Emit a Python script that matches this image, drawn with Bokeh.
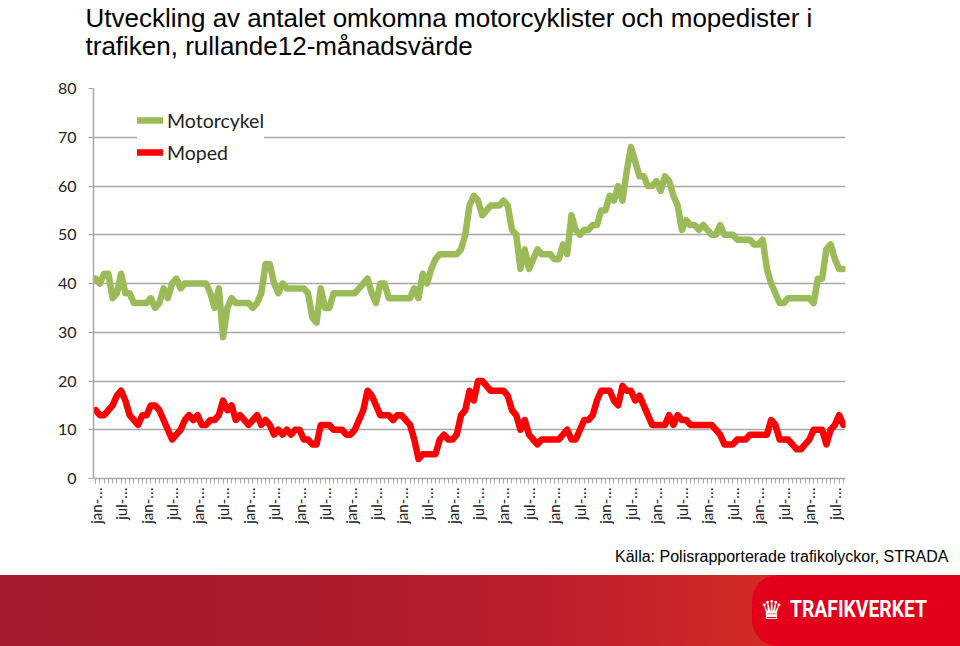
from math import pi
from bokeh.plotting import figure
from bokeh.models import (Range1d, FixedTicker, Title, Legend, LegendItem, Div)
from bokeh.layouts import column
from bokeh.embed import file_html
from bokeh.resources import INLINE

# ---- data -------------------------------------------------------------
months = list(range(177))
tick_positions = list(range(0, 177, 6))
tick_labels = ["jan-…" if m % 12 == 0 else "jul-…" for m in tick_positions]
y_ticks = [0, 10, 20, 30, 40, 50, 60, 70, 80]

motorcykel = [
    41, 40, 42, 42, 37, 38, 42, 38, 38, 36,
    36, 36, 36, 37, 35, 36, 39, 37, 40, 41,
    39, 40, 40, 40, 40, 40, 40, 38, 35, 39,
    29, 35, 37, 36, 36, 36, 36, 35, 36, 38,
    44, 44, 40, 38, 40, 39, 39, 39, 39, 39,
    38, 33, 32, 39, 35, 35, 38, 38, 38, 38,
    38, 38, 39, 40, 41, 38, 36, 40, 40, 37,
    37, 37, 37, 37, 37, 39, 37, 42, 40, 43,
    45, 46, 46, 46, 46, 46, 47, 50, 56, 58,
    57, 54, 55, 56, 56, 56, 57, 56, 51, 50,
    43, 47, 43, 45, 47, 46, 46, 46, 45, 45,
    48, 46, 54, 51, 50, 51, 51, 52, 52, 55,
    55, 58, 57, 60, 57, 63, 68, 65, 62, 62,
    60, 60, 61, 59, 62, 61, 58, 56, 51, 53,
    52, 52, 51, 52, 51, 50, 50, 52, 50, 50,
    50, 49, 49, 49, 49, 48, 48, 49, 43, 40,
    38, 36, 36, 37, 37, 37, 37, 37, 37, 36,
    41, 41, 47, 48, 45, 43, 43,
]

moped = [
    14, 13, 13, 14, 15, 17, 18, 16, 13, 12,
    11, 13, 13, 15, 15, 14, 12, 10, 8, 9,
    10, 12, 13, 12, 13, 11, 11, 12, 12, 13,
    16, 14, 15, 12, 13, 12, 11, 12, 13, 11,
    12, 11, 9, 10, 9, 10, 9, 10, 10, 8,
    8, 7, 7, 11, 11, 11, 10, 10, 10, 9,
    9, 10, 12, 14, 18, 17, 15, 13, 13, 13,
    12, 13, 13, 12, 11, 8, 4, 5, 5, 5,
    5, 8, 9, 8, 8, 9, 13, 14, 18, 16,
    20, 20, 19, 18, 18, 18, 18, 17, 14, 13,
    10, 12, 9, 8, 7, 8, 8, 8, 8, 8,
    9, 10, 8, 8, 10, 12, 12, 13, 16, 18,
    18, 18, 16, 15, 19, 18, 18, 16, 17, 15,
    13, 11, 11, 11, 11, 13, 11, 13, 12, 12,
    11, 11, 11, 11, 11, 11, 10, 9, 7, 7,
    7, 8, 8, 8, 9, 9, 9, 9, 9, 12,
    11, 8, 8, 8, 7, 6, 6, 7, 8, 10,
    10, 10, 7, 10, 11, 13, 11,
]

title_line1 = "Utveckling av antalet omkomna motorcyklister och mopedister i"
title_line2 = "trafiken, rullande12-månadsvärde"
source_text = "Källa: Polisrapporterade trafikolyckor, STRADA"

# ---- main chart -----------------------------------------------------------
W, H = 960, 575
fig = figure(width=W, height=H, output_backend="svg", toolbar_location=None,
             x_range=Range1d(-0.5, 176.5), y_range=Range1d(0, 80),
             min_border_left=93, min_border_right=115,
             min_border_top=88, min_border_bottom=97)
fig.outline_line_color = None
fig.background_fill_color = "white"
fig.border_fill_color = "white"

grid_col = "#a6a6a6"
fig.xgrid.visible = False
fig.ygrid.grid_line_color = grid_col
fig.ygrid.grid_line_width = 1.5

fig.yaxis.ticker = FixedTicker(ticks=y_ticks)
fig.yaxis.axis_line_color = grid_col
fig.yaxis.axis_line_width = 1.5
fig.yaxis.major_tick_line_color = grid_col
fig.yaxis.major_tick_out = 5
fig.yaxis.major_tick_in = 0
fig.yaxis.minor_tick_line_color = None
fig.yaxis.major_label_text_font = "Lato"
fig.yaxis.major_label_text_font_size = "16px"
fig.yaxis.major_label_text_color = "#222222"
fig.yaxis.major_label_standoff = 12

fig.xaxis.ticker = FixedTicker(ticks=tick_positions, minor_ticks=months)
fig.xaxis.major_label_overrides = {t: l for t, l in zip(tick_positions, tick_labels)}
fig.xaxis.major_label_orientation = pi / 2
fig.xaxis.axis_line_color = grid_col
fig.xaxis.axis_line_width = 1.5
fig.xaxis.major_tick_line_color = grid_col
fig.xaxis.minor_tick_line_color = grid_col
fig.xaxis.major_tick_out = 5
fig.xaxis.major_tick_in = 0
fig.xaxis.minor_tick_out = 5
fig.xaxis.minor_tick_in = 0
fig.xaxis.major_label_text_font = "Lato"
fig.xaxis.major_label_text_font_size = "15px"
fig.xaxis.major_label_text_color = "#222222"
fig.xaxis.major_label_standoff = 4

r_mc = fig.line(months, motorcykel, line_color="#9bbb59", line_width=6.5,
                line_join="round", line_cap="round")
r_mp = fig.line(months, moped, line_color="#ff0000", line_width=6.5,
                line_join="round", line_cap="round")

legend = Legend(items=[LegendItem(label="Motorcykel", renderers=[r_mc]),
                       LegendItem(label="Moped", renderers=[r_mp])],
                location=(44, 310), glyph_width=26, glyph_height=32,
                label_height=32, spacing=0, padding=12, label_standoff=4,
                label_text_font="Lato", label_text_font_size="19.5px",
                label_text_color="#222222",
                border_line_color=None, background_fill_color="white",
                background_fill_alpha=1.0, margin=0)
fig.add_layout(legend)

# title: two lines plus an empty third line so the block sits at the top
fig.add_layout(Title(text=title_line1 + "\n" + title_line2 + "\n\u00a0",
                     align="left", offset=-8, standoff=0,
                     text_font="Liberation Sans", text_font_size="26px",
                     text_line_height=0.93,
                     text_font_style="normal", text_color="black"), "above")
# source: empty first line pushes the text further from the axis
fig.add_layout(Title(text="\u00a0\n" + source_text, align="right", offset=-103,
                     standoff=4, text_line_height=1.0,
                     text_font="Liberation Sans", text_font_size="16px",
                     text_font_style="normal", text_color="black"), "below")

banner = Div(
    text=('<div style="position:relative;width:960px;height:71px;overflow:hidden;'
          'background:linear-gradient(90deg,#a6192e 0%,#ad1b2d 35%,#bd1f2c 58%,#d22a27 79%);">'
          '<div style="position:absolute;left:752px;top:0;width:230px;height:71px;'
          'background:#e2001a;border-radius:26px 0 0 26px;"></div>'
          '<div style="position:absolute;left:760px;top:18px;color:white;'
          'font-family:\'DejaVu Sans\';font-size:26px;line-height:34px;">&#9819;</div>'
          '<div style="position:absolute;left:790px;top:21px;color:white;'
          'font-family:\'Roboto\';font-size:23px;font-weight:bold;'
          'transform:scaleX(0.84);transform-origin:left center;'
          'line-height:28px;white-space:nowrap;">TRAFIKVERKET</div>'
          '</div>'),
    width=960, height=71, margin=0)

p = column(fig, banner, spacing=0)

open("out.html", "w").write(file_html(p, INLINE))
